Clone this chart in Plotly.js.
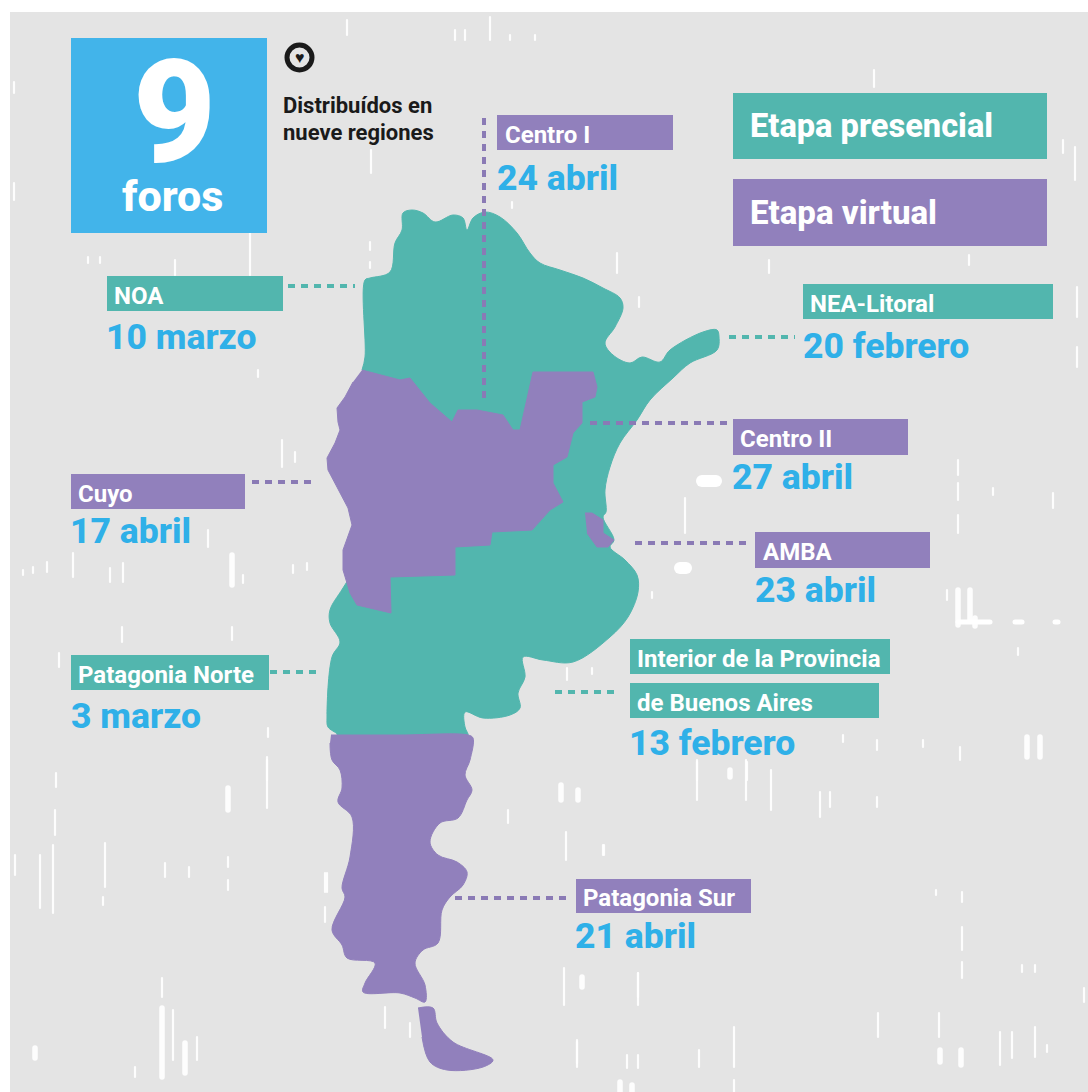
<!DOCTYPE html>
<html lang="es">
<head>
<meta charset="utf-8">
<title>9 foros</title>
<script src="https://cdn.plot.ly/plotly-3.0.1.min.js"></script>
<style>
html,body{margin:0;padding:0;background:#fff}
#chart{width:1088px;height:1092px}
.scatterlayer .trace:nth-child(-n+4) .js-line{stroke-linecap:round}
</style>
</head>
<body>
<div id="chart"></div>
<script>
// ---- colours
var TEAL = '#52b6ae', PURPLE = '#9180bc', BLUE = '#2fb0e8', BOX_BLUE = '#42b4ea', BG = '#e4e4e4';

// ---- map outlines
var northX = [362,365,365,370,390,395,402,403,412,423,435,453,463,467,473,485,500,517,530,540,560,583,603,620,623,615,605,613,630,642,660,670,703,717,719,717,690,673,650,637,620,610,605,606,603,614,610,625,637,638,628,610,573,543,523,525,518,520,510,483,465,465,468,468,400,337,337,328,327,332,340,330,330,343,400];
var northY = [370,357,280,278,272,243,230,213,210,213,222,215,218,230,218,212,217,233,253,263,270,278,288,298,308,327,343,355,363,357,362,350,332,330,337,350,363,378,400,420,443,467,490,512,517,540,547,560,575,592,617,637,662,660,657,677,693,708,715,718,712,727,734,736,736,736,734,727,717,657,642,623,610,588,500];
var centerX = [362,400,410,430,452,458,477,503,513,520,533,593,597,595,582,582,573,567,553,553,563,550,532,492,490,455,455,390,391,357,350,343,343,347,352,348,337,328,327,335,340,338,337,345,353];
var centerY = [370,380,378,403,422,410,410,415,430,430,372,372,387,397,402,423,433,457,465,483,502,510,530,532,545,547,575,577,613,605,593,570,550,538,525,508,487,470,458,443,430,422,408,397,382];
var ambaX = [585,592,603,603,614,608,597,587];
var ambaY = [513,513,520,533,540,547,547,533];
var southX = [331,400,468,473,470,465,472,467,458,440,430,438,457,467,463,450,442,438,423,415,425,425,415,400,363,365,375,347,342,332,345,342,350,352,338,342,340,332,330];
var southY = [735,735,735,738,760,775,790,800,818,823,842,855,862,872,885,897,910,943,950,963,985,1002,998,993,992,983,963,958,945,930,897,888,857,817,802,788,770,760,743];
var fuegoX = [418,433,437,453,493,483,447,430,422];
var fuegoY = [1008,1008,1023,1042,1060,1067,1070,1062,1037];

// ---- regions
var regionNames = ['NOA','Centro I','NEA-Litoral','Centro II','Cuyo','AMBA','Interior de la Provincia','de Buenos Aires','Patagonia Norte','Patagonia Sur'];
var regionColors = [TEAL,PURPLE,TEAL,PURPLE,PURPLE,PURPLE,TEAL,TEAL,TEAL,PURPLE];
var boxLeft   = [107,497,803,733,71,755,630,630,71,576];
var boxRight  = [283,673,1053,908,245,930,890,879,269,751];
var boxTop    = [276,115,284,419,474,532,639,683,655,879];
var boxBottom = [311,150,319,455,509,568,674,718,690,913];
var nameLeft  = [113,504,809,739,77,762,636,636,77,582];

var dateLabels = ['10 marzo','24 abril','20 febrero','27 abril','17 abril','23 abril','3 marzo','13 febrero','21 abril'];
var dateLeft   = [105,496,802,731,69,754,70,628,574];
var dateMid    = [337,178,346,477,531,590,716,743,936];

// ---- dotted leaders
var leaderColors = [TEAL,'#8a7ab5',TEAL,'#8a7ab5','#8a7ab5','#8a7ab5',TEAL,TEAL,'#8a7ab5'];
var leaderX0 = [288,484,729,590,252,635,270,555,455];
var leaderX1 = [355,484,795,733,317,752,318,620,570];
var leaderY0 = [286,118,337,423,482,543,672,692,898];
var leaderY1 = [286,402,337,423,482,543,672,692,898];

// ---- texture: white flecks on the background
var thinX   = [55,53,40,105,103,15,56,165,189,228,228,267,327,325,173,197,135,162,697,746,771,820,830,877,566,604,564,638,962,1084,1022,1035,734,577,699,638,627,878,939,1000,1012,1035,1047,962,962,936,734,685,958,958,958,1053,993,947,1018,877,960,843,923,697,747,250,175,347,371,490,455,465,510,535,14,14,88,100,258,874,1075,1063,1077,1077,617,769,969,639,370,370,512,652,282,295,208,123,110,47,33,23,243,122,232,59,267,268,73,293,307,567,592,508,603,385,410,577,638,325];
var thinTop = [810,845,855,843,897,855,773,863,867,857,880,760,873,907,1010,1037,1067,978,760,760,770,792,792,797,832,845,968,973,962,988,965,965,1027,1040,1050,1055,1055,1013,1013,1032,1032,1027,1045,927,892,890,1080,498,460,483,515,493,488,590,648,740,747,735,740,762,762,233,260,20,150,17,30,30,35,35,82,183,257,257,370,70,147,140,287,347,253,260,255,297,242,262,202,592,440,452,530,563,568,562,567,570,575,627,627,653,757,728,553,565,563,668,668,810,845,1007,1023,1042,973,873];
var thinBot = [835,913,908,887,905,875,787,877,877,867,890,808,892,922,1060,1060,1077,997,800,800,810,817,807,807,860,855,1005,1005,978,1002,972,972,1067,1067,1067,1068,1068,1037,1037,1065,1058,1057,1052,950,902,895,1092,533,475,500,533,508,495,600,655,750,760,742,747,780,780,275,275,35,173,40,40,40,40,40,93,200,263,263,377,87,180,153,317,367,273,273,265,307,250,268,208,598,467,462,547,582,582,572,573,575,583,642,640,667,780,737,577,573,570,680,674,823,855,1028,1037,1063,997,892];
var thickX   = [162,185,228,35,232,940,961,958,970,1040,1027,561,578,582,730,975,632,620];
var thickTop = [1008,1043,788,1048,555,1050,1050,590,590,737,737,785,790,977,770,618,1085,1082];
var thickBot = [1077,1073,810,1058,585,1062,1065,625,620,757,757,800,800,987,777,626,1092,1092];
var blobX0 = [702,680];
var blobX1 = [716,686];
var blobY  = [481,568];
var streakX0 = [958,1015,1055];
var streakX1 = [990,1022,1058];
var streakY  = [622,622,622];

function flecks(xs, tops, bots, width) {
  var x = [], y = [];
  xs.forEach(function (v, i) { x.push(v, v, null); y.push(tops[i], bots[i], null); });
  return {x: x, y: y, mode: 'lines', line: {color: 'rgba(255,255,255,0.92)', width: width}, hoverinfo: 'skip', showlegend: false};
}
function blobs(x0, x1, ys, width) {
  var x = [], y = [];
  x0.forEach(function (v, i) { x.push(v, x1[i], null); y.push(ys[i], ys[i], null); });
  return {x: x, y: y, mode: 'lines', line: {color: '#ffffff', width: width}, hoverinfo: 'skip', showlegend: false};
}
function land(x, y, color, shape) {
  return {x: x, y: y, mode: 'lines', fill: 'toself', fillcolor: color,
          line: {color: color, width: 1, shape: shape, smoothing: 1}, hoverinfo: 'skip', showlegend: false};
}

var traces = [
  flecks(thinX, thinTop, thinBot, 2.2),
  flecks(thickX, thickTop, thickBot, 5.5),
  blobs(blobX0, blobX1, blobY, 12),
  blobs(streakX0, streakX1, streakY, 5),
  land(northX, northY, TEAL, 'spline'),
  land(centerX, centerY, PURPLE, 'linear'),
  land(ambaX, ambaY, PURPLE, 'linear'),
  land(southX, southY, PURPLE, 'spline'),
  land(fuegoX, fuegoY, PURPLE, 'spline')
];
leaderX0.forEach(function (v, i) {
  traces.push({x: [v, leaderX1[i]], y: [leaderY0[i], leaderY1[i]], mode: 'lines',
    line: {color: leaderColors[i], width: 4, dash: '7px,6px'}, hoverinfo: 'skip', showlegend: false});
});
// heart icon ring
traces.push({x: [299.5], y: [57.5], mode: 'markers',
  marker: {symbol: 'circle-open', size: 25, color: '#1a1a1a', line: {color: '#1a1a1a', width: 5}},
  hoverinfo: 'skip', showlegend: false});

var FONT = 'Roboto, Arial, sans-serif';
function rect(x0, x1, y0, y1, color, layer) {
  return {type: 'rect', xref: 'x', yref: 'y', x0: x0, x1: x1, y0: y0, y1: y1,
          fillcolor: color, line: {width: 0}, layer: layer || 'above'};
}
function label(txt, x, y, size, color, weight, anchor) {
  return {text: txt, x: x, y: y, xref: 'x', yref: 'y', xanchor: anchor || 'left', yanchor: 'middle',
          showarrow: false, borderpad: 0, align: 'left',
          font: {family: FONT, size: size, color: color, weight: weight || 700}};
}

var shapes = [rect(10, 1088, 12, 1092, BG, 'below'),
              rect(71, 267, 38, 233, BOX_BLUE),
              rect(733, 1047, 93, 159, TEAL),
              rect(733, 1047, 179, 246, PURPLE)];
regionNames.forEach(function (n, i) {
  shapes.push(rect(boxLeft[i], boxRight[i], boxTop[i], boxBottom[i], regionColors[i]));
});

var annotations = [
  label('9', 174, 113, 143, '#ffffff', 900, 'center'),
  label('foros', 172, 196, 43, '#ffffff', 800, 'center'),
  label('♥', 299.5, 57.5, 16, '#1a1a1a', 400, 'center'),
  label('Distribuídos en', 282, 105, 22, '#1a1a1a', 700),
  label('nueve regiones', 282, 132, 22, '#1a1a1a', 700),
  label('Etapa presencial', 749, 126, 32.6, '#ffffff', 800),
  label('Etapa virtual', 749, 212, 33, '#ffffff', 800)
];
regionNames.forEach(function (n, i) {
  annotations.push(label(n, nameLeft[i], (boxTop[i] + boxBottom[i]) / 2 + 2, 24, '#ffffff', 700));
});
dateLabels.forEach(function (d, i) {
  annotations.push(label(d, dateLeft[i], dateMid[i], 35.5, BLUE, 800));
});

Plotly.newPlot('chart', traces, {
  width: 1088, height: 1092,
  margin: {l: 0, r: 0, t: 0, b: 0},
  paper_bgcolor: '#ffffff', plot_bgcolor: 'rgba(0,0,0,0)',
  xaxis: {range: [0, 1088], visible: false, fixedrange: true},
  yaxis: {range: [1092, 0], visible: false, fixedrange: true},
  shapes: shapes, annotations: annotations,
  showlegend: false, hovermode: false
}, {displayModeBar: false, staticPlot: true});
</script>
</body>
</html>
